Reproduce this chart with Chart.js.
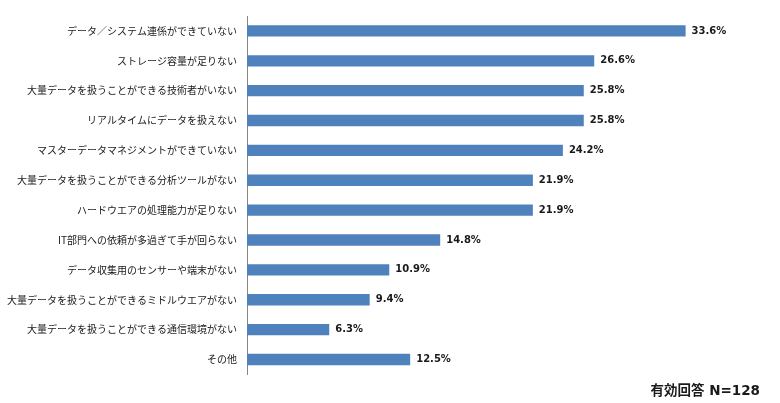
<!DOCTYPE html>
<html lang="ja">
<head>
<meta charset="utf-8">
<script src="https://cdn.jsdelivr.net/npm/chart.js@4.4.1/dist/chart.umd.min.js"></script>
<style>
  html, body { margin: 0; padding: 0; background: #fff; }
  #wrap { width: 780px; height: 403px; }
</style>
</head>
<body>
<div id="wrap"><canvas id="chart"></canvas></div>
<script>
// 課題項目
const categories = [
    'データ／システム連係ができていない',
    'ストレージ容量が足りない',
    '大量データを扱うことができる技術者がいない',
    'リアルタイムにデータを扱えない',
    'マスターデータマネジメントができていない',
    '大量データを扱うことができる分析ツールがない',
    'ハードウエアの処理能力が足りない',
    'IT部門への依頼が多過ぎて手が回らない',
    'データ収集用のセンサーや端末がない',
    '大量データを扱うことができるミドルウエアがない',
    '大量データを扱うことができる通信環境がない',
    'その他'
];

// 回答率 (%)
const values = [33.6, 26.6, 25.8, 25.8, 24.2, 21.9, 21.9, 14.8, 10.9, 9.4, 6.3, 12.5];

const noteText = '有効回答 N=128';

// バー右端に値ラベルを描画
const valueLabels = {
    id: 'valueLabels',
    afterDatasetsDraw(chart) {
        const ctx = chart.ctx;
        const meta = chart.getDatasetMeta(0);
        ctx.save();
        ctx.font = 'bold 10px "DejaVu Sans", Verdana, sans-serif';
        ctx.fillStyle = '#1a1a1a';
        ctx.textAlign = 'left';
        ctx.textBaseline = 'middle';
        meta.data.forEach((bar, i) => {
            ctx.fillText(values[i].toFixed(1) + '%', bar.x + 6, bar.y);
        });
        ctx.restore();
    }
};

new Chart(document.getElementById('chart'), {
    type: 'bar',
    data: {
        labels: categories,
        datasets: [{
            data: values,
            backgroundColor: '#4F81BD',
            borderWidth: 0,
            barPercentage: 0.38,
            categoryPercentage: 1.0
        }]
    },
    options: {
        indexAxis: 'y',
        responsive: true,
        maintainAspectRatio: false,
        animation: false,
        devicePixelRatio: 1,
        layout: {
            padding: { top: 12.5, right: 20, bottom: 3.4, left: 0 }
        },
        plugins: {
            legend: { display: false },
            tooltip: { enabled: false },
            title: {
                display: true,
                text: noteText,
                position: 'bottom',
                align: 'end',
                color: '#1a1a1a',
                font: { family: '"DejaVu Sans", "Noto Sans CJK JP", sans-serif', size: 13.5, weight: 'bold', lineHeight: 1.2 },
                padding: { top: 9, bottom: 0 }
            }
        },
        scales: {
            x: {
                display: false,
                min: 0,
                max: 39.3
            },
            y: {
                grid: { display: false, drawTicks: false },
                border: { display: true, color: '#868686', width: 1 },
                ticks: {
                    color: '#1a1a1a',
                    padding: 10,
                    autoSkip: false,
                    font: { family: '"Noto Sans CJK JP", sans-serif', size: 10 }
                },
                afterFit(scale) {
                    scale.width = 247;
                }
            }
        }
    },
    plugins: [valueLabels]
});
</script>
</body>
</html>
